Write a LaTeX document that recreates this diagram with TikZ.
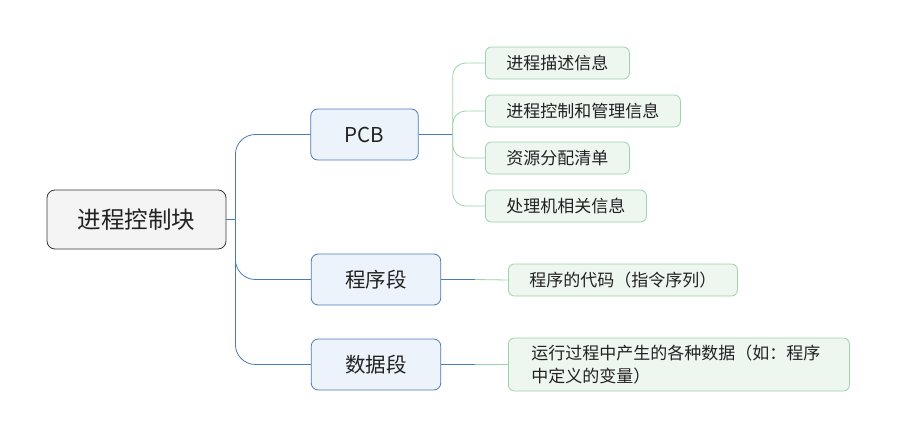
\documentclass[tikz,border=0pt]{standalone}
\usepackage{fontspec}
\setmainfont{Noto Sans CJK SC}
\usetikzlibrary{positioning,calc}
\definecolor{rootfill}{HTML}{F4F4F4}
\definecolor{rootline}{HTML}{3A3A3A}
\definecolor{bluefill}{HTML}{EDF3FB}
\definecolor{blueline}{HTML}{4A7BBA}
\definecolor{greenfill}{HTML}{EEF6F0}
\definecolor{greenline}{HTML}{9BD3AA}
\definecolor{inktext}{HTML}{222222}

\begin{document}
\begin{tikzpicture}[x=1pt, y=-1pt, semithick]
\tikzstyle{root}=[draw=rootline,fill=rootfill,rounded corners=8pt,thick,text=inktext,minimum width=179pt,minimum height=59pt,font=\fontsize{23.5}{28}\selectfont]
\tikzstyle{part}=[draw=blueline,fill=bluefill,rounded corners=7pt,thick,text=inktext,inner xsep=34pt,minimum height=51pt,font=\fontsize{20.5}{24}\selectfont]
\tikzstyle{leaf}=[draw=greenline,fill=greenfill,rounded corners=6pt,thick,text=inktext,inner xsep=21pt,minimum height=32pt,font=\fontsize{17}{23}\selectfont]
\tikzstyle{bline}=[draw=blueline,thick,rounded corners=20pt]
\tikzstyle{gline}=[draw=greenline,thick,rounded corners=13pt]
\useasboundingbox (0,0) rectangle (897,439);

\node[root] (pcb-block) at (136.5,219.5) {进程控制块};
\node[part] (pcb) at (364.5,134.5) {PCB};
\node[part] (code) at (376,279.5) {程序段};
\node[part] (data) at (376,364.5) {数据段};

\node[leaf,anchor=west] (desc) at (485,63) {进程描述信息};
\node[leaf,anchor=west] (ctrl) at (485,111) {进程控制和管理信息};
\node[leaf,anchor=west] (res) at (485,158) {资源分配清单};
\node[leaf,anchor=west] (cpu) at (485,206) {处理机相关信息};
\node[leaf,anchor=west] (instr) at (508,280) {程序的代码（指令序列）};
\node[leaf,anchor=west,minimum height=53pt,inner xsep=23pt,text width=295pt,align=left] (vars) at (508,364.5) {运行过程中产生的各种数据（如：程序\\中定义的变量）};

\coordinate (trunk) at ($(pcb-block.east)+(9,0)$);
\coordinate (pcb-fork) at ($(pcb.east)+(34,0)$);
\coordinate (code-fork) at ($(code.east)+(34,0)$);
\coordinate (data-fork) at ($(data.east)+(34,0)$);

\draw[bline,sharp corners] (pcb-block.east) -- (trunk);
\draw[bline] (trunk) |- (pcb.west);
\draw[bline] (trunk) |- (code.west);
\draw[bline] (trunk) |- (data.west);

\draw[bline] (pcb.east) -- (pcb-fork);
\draw[bline] (code.east) -- (code-fork);
\draw[bline] (data.east) -- (data-fork);

\draw[gline] (pcb-fork) |- (desc.west);
\draw[gline] (pcb-fork) |- (ctrl.west);
\draw[gline] (pcb-fork) |- (res.west);
\draw[gline] (pcb-fork) |- (cpu.west);
\draw[gline] (code-fork) -- (instr.west);
\draw[gline] (data-fork) -- (vars.west);

\end{tikzpicture}
\end{document}
